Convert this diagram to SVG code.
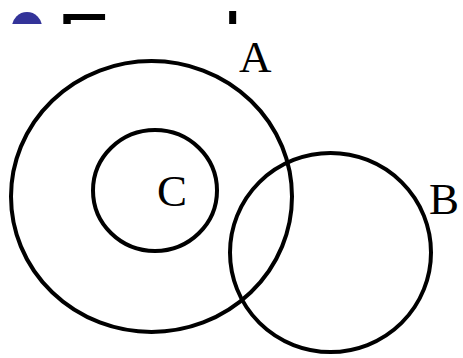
<svg xmlns="http://www.w3.org/2000/svg" width="463" height="358" viewBox="0 0 463 358">
<style>
.ring{fill:none;stroke:#000;stroke-width:4}
.lbl{font-family:"Liberation Serif","Times New Roman",serif;font-size:45px;fill:#000}
.title{font-family:"Liberation Sans",Arial,sans-serif;font-size:80px;fill:#000;letter-spacing:-16.4px}
</style>
<defs>
<clipPath id="top"><rect x="0" y="0" width="463" height="24"/></clipPath>
</defs>
<rect width="463" height="358" fill="#fff"/>
<g id="title" clip-path="url(#top)">
<circle cx="27" cy="27" r="15" fill="#333399"/>
<text class="title" x="56.7" y="69.3">Example</text>
</g>
<g id="A">
<ellipse class="ring" cx="151.5" cy="196.5" rx="140.5" ry="135.5"/>
<text class="lbl" x="239" y="72">A</text>
</g>
<g id="C">
<ellipse class="ring" cx="155" cy="190.5" rx="62" ry="60.5"/>
<text class="lbl" x="157" y="206">C</text>
</g>
<g id="B">
<ellipse class="ring" cx="330.5" cy="252.5" rx="100.5" ry="99.5"/>
<text class="lbl" x="429" y="214">B</text>
</g>
<g id="connectors"/>
</svg>
